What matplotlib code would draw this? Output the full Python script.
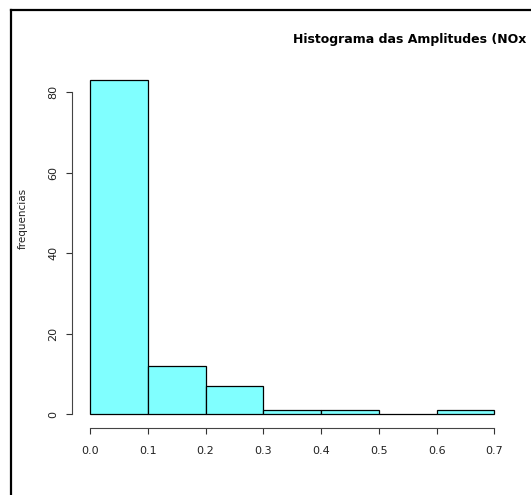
import matplotlib
matplotlib.use('Agg')
import matplotlib.pyplot as plt
from matplotlib.lines import Line2D

plt.rcParams['font.family'] = ['DejaVu Sans']

# histogram data
bin_edges = [0.0, 0.1, 0.2, 0.3, 0.4, 0.5, 0.6, 0.7]
counts = [83, 12, 7, 1, 1, 0, 1]
x_ticks = [0.0, 0.1, 0.2, 0.3, 0.4, 0.5, 0.6, 0.7]
x_tick_labels = ['0.0', '0.1', '0.2', '0.3', '0.4', '0.5', '0.6', '0.7']
y_ticks = [0, 20, 40, 60, 80]
title = 'Histograma das Amplitudes (NOx'
ylabel = 'frequencias'

W, H = 531, 495
fig = plt.figure(figsize=(W / 100, H / 100), dpi=100)
fig.patch.set_facecolor('white')

# plot region in pixels
left_px, right_px = 72, 510.5
top_px, bottom_px = 66.8, 427.7
ax = fig.add_axes([left_px / W, 1 - bottom_px / H,
                   (right_px - left_px) / W, (bottom_px - top_px) / H])

widths = [bin_edges[i + 1] - bin_edges[i] for i in range(len(counts))]
ax.bar(bin_edges[:-1], counts, width=widths, align='edge',
       color='#80ffff', edgecolor='black', linewidth=0.9)

ax.set_xlim(-0.0312, 0.728)
ax.set_ylim(-3.32, 86.32)

for s in ['top', 'right']:
    ax.spines[s].set_visible(False)
ax.spines['left'].set_bounds(0, 80)
ax.spines['bottom'].set_bounds(0, 0.7)
for s in ['left', 'bottom']:
    ax.spines[s].set_color('#444444')
    ax.spines[s].set_linewidth(0.8)

ax.set_xticks(x_ticks)
ax.set_xticklabels(x_tick_labels)
ax.set_yticks(y_ticks)
ax.set_yticklabels([str(v) for v in y_ticks], rotation=90, va='center')
ax.tick_params(axis='both', direction='out', length=4.5, width=0.8,
               color='#333333', labelsize=8, labelcolor='#222222')
ax.tick_params(axis='x', pad=8.5)
ax.tick_params(axis='y', pad=5.5)

fig.text(293 / W, 1 - 39 / H, title, ha='left', va='center',
         fontsize=9, fontweight='bold', color='black')
fig.text(22.5 / W, 1 - 218 / H, ylabel, rotation=90, ha='center', va='center',
         fontsize=7.5, color='#222222')

# outer frame (left and top edges visible)
fig.add_artist(Line2D([11 / W, 11 / W], [0, 1 - 10 / H], transform=fig.transFigure,
                      color='black', linewidth=1.6))
fig.add_artist(Line2D([11 / W, 1.0], [1 - 10 / H, 1 - 10 / H], transform=fig.transFigure,
                      color='black', linewidth=1.6))

fig.savefig('out.png', dpi=100)
